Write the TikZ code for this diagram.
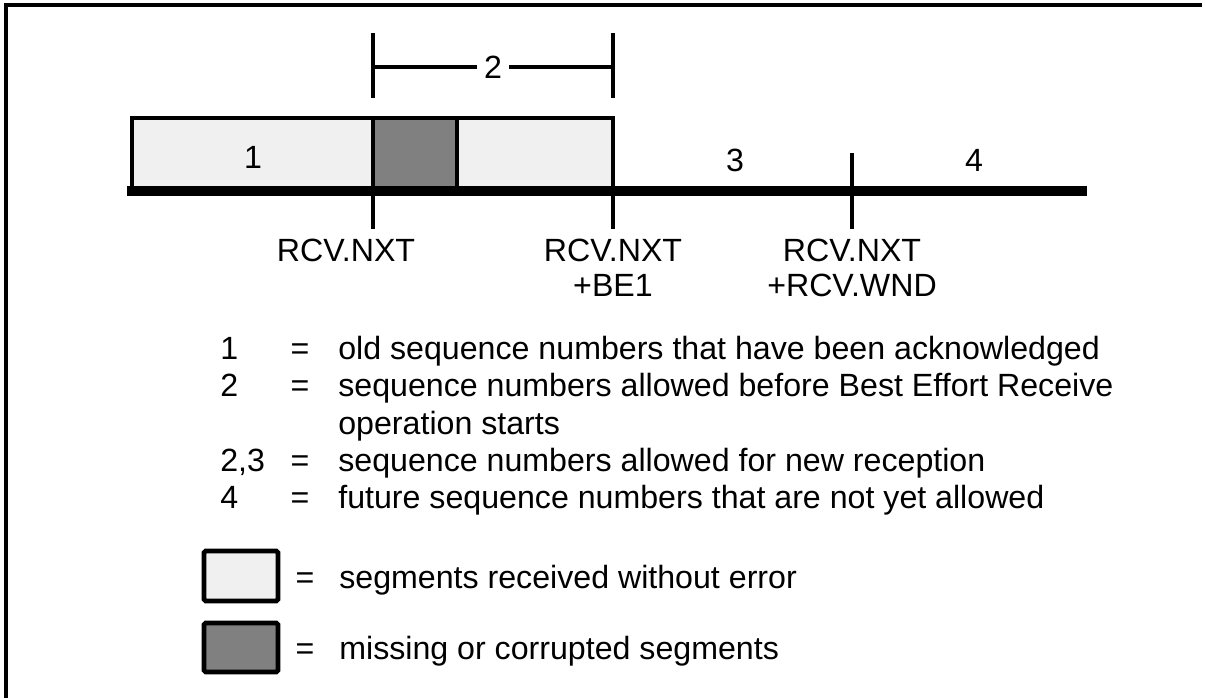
\documentclass[tikz,border=0pt]{standalone}
\usepackage{fontspec}
\setmainfont{Liberation Sans}

\begin{document}
\begin{tikzpicture}[x=0.02cm,y=-0.02cm,
		lbl/.style={font=\fontsize{18.3}{20}\selectfont, inner sep=0pt},
		okseg/.style={draw, line width=2.3pt, fill=black!6},
		badseg/.style={draw, line width=2.3pt, fill=black!50},
		tick/.style={line width=2.3pt}]
		\useasboundingbox (0,0) rectangle (1205,698);
		\draw[line width=2.3pt] (6,698) -- (6,5) -- (1202,5);

		% segments on the sequence space
		\draw[okseg]  (132,191) rectangle (373,118);
		\draw[badseg] (373,191) rectangle (457,118);
		\draw[okseg]  (457,191) rectangle (613,118);
		\draw[line width=5.7pt] (127,191) -- (1087,191);

		\coordinate (nxt)   at (373,191);
		\coordinate (be)    at (613,191);
		\coordinate (wnd)   at (852,191);

		% bracket for 2
		\node[lbl] (two) at (493,67) {2};
		\draw[tick] (373,33) -- (373,98);
		\draw[tick] (613,33) -- (613,98);
		\draw[tick] (373,67) -- ([xshift=-4pt]two.west);
		\draw[tick] ([xshift=4pt]two.east) -- (613,67);

		\draw[tick] (nxt) -- (373,229);
		\draw[tick] (613,118) -- (613,229);
		\draw[tick] (852,153) -- (852,229);

		\node[lbl, anchor=base] (one)   at (253,168) {1};
		\node[lbl, anchor=base] (three) at (735,171) {3};
		\node[lbl, anchor=base] (four)  at (974,171) {4};

		\node[lbl, anchor=north]               (rnxt) at (346,239) {RCV.NXT};
		\node[lbl, anchor=north, align=center] (rbe)  at (613,239) {RCV.NXT\\+BE1};
		\node[lbl, anchor=north, align=center] (rwnd) at (852,239) {RCV.NXT\\+RCV.WND};

		% legend
		\node[lbl, anchor=base west] (k1) at (220,359) {1};
		\node[lbl, anchor=base]      (e1) at (300,359) {=};
		\node[lbl, anchor=base west] (t1) at (338,359) {old sequence numbers that have been acknowledged};
		\node[lbl, anchor=base west] (k2) at (220,396) {2};
		\node[lbl, anchor=base]      (e2) at (300,396) {=};
		\node[lbl, anchor=base west] (t2) at (338,396) {sequence numbers allowed before Best Effort Receive};
		\node[lbl, anchor=base west] (t2b) at (338,434) {operation starts};
		\node[lbl, anchor=base west] (k3) at (220,471) {2,3};
		\node[lbl, anchor=base]      (e3) at (300,471) {=};
		\node[lbl, anchor=base west] (t3) at (338,471) {sequence numbers allowed for new reception};
		\node[lbl, anchor=base west] (k4) at (220,508) {4};
		\node[lbl, anchor=base]      (e4) at (300,508) {=};
		\node[lbl, anchor=base west] (t4) at (338,508) {future sequence numbers that are not yet allowed};

		\draw[okseg, line width=2.8pt, rounded corners=1pt]  (204,551) rectangle (278,601);
		\node[lbl, anchor=base]      (eok) at (305,588) {=};
		\node[lbl, anchor=base west] (tok) at (339,588) {segments received without error};
		\draw[badseg, line width=2.8pt, rounded corners=1pt] (204,623) rectangle (278,672);
		\node[lbl, anchor=base]      (ebad) at (305,659) {=};
		\node[lbl, anchor=base west] (tbad) at (339,659) {missing or corrupted segments};
	\end{tikzpicture}
\end{document}
